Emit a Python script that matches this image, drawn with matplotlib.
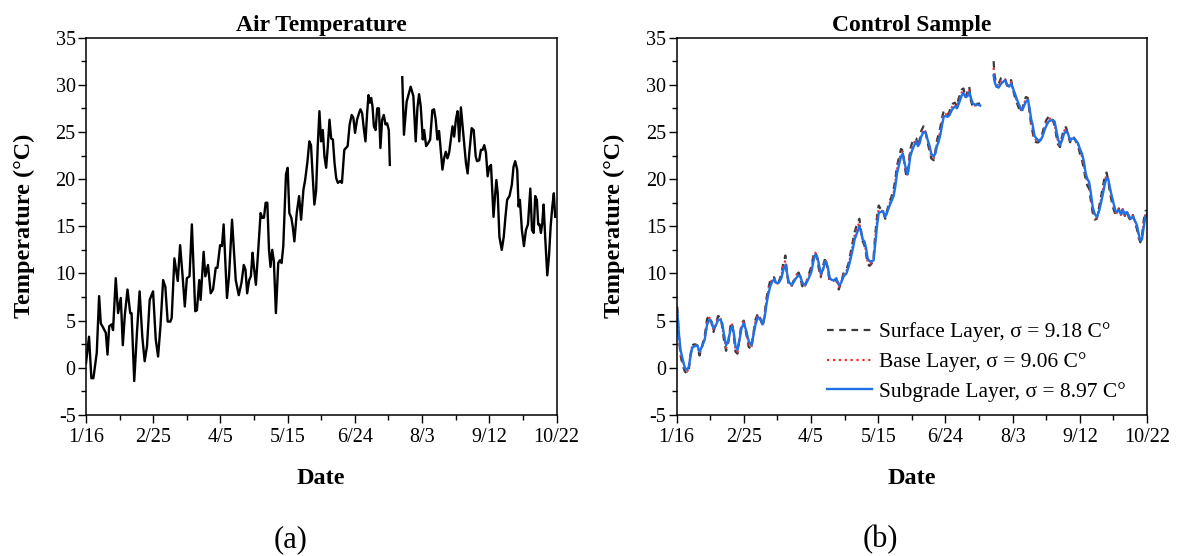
import numpy as np
import matplotlib
matplotlib.use("Agg")
import matplotlib.pyplot as plt
import matplotlib.gridspec as gridspec
from matplotlib.ticker import MultipleLocator

# ---------------------------------------------------------------------------
# data (day 0 = 1/16, leap year)
# ---------------------------------------------------------------------------
tick_days = [0, 40, 80, 120, 160, 200, 240, 280]
tick_labels = ["1/16", "2/25", "4/5", "5/15", "6/24", "8/3", "9/12", "10/22"]

# (a) air temperature, gap between 7/14 and 7/22
air_day = [
    0, 1.8, 3.2, 4.4, 6.4, 7.8, 8.8, 10.4, 11.8, 12.8, 13.8, 15.2, 16.1, 17.7,
    19.1, 20.7, 21.9, 23.1, 24.7, 26.3, 27.1, 28.7, 30.3, 31.9, 33.5, 34.9,
    36.3, 37.9, 39.9, 41.5, 42.9, 44.3, 45.9, 47.2, 48.6, 50.2, 51.0, 52.6,
    54.6, 56.0, 57.4, 58.8, 60.0, 61.6, 63.0, 65.0, 66.0, 67.4, 68.2, 70.0,
    71.0, 72.6, 74.2, 75.6, 77.2, 78.2, 79.8, 80.9, 81.9, 83.9, 85.1, 86.9,
    89.1, 90.9, 92.5, 93.9, 94.9, 95.9, 97.1, 98.1, 99.1, 99.9, 101.1, 102.5,
    103.9, 104.9, 105.9, 106.9, 107.9, 108.9, 109.8, 110.8, 111.8, 113.0,
    114.4, 115.4, 116.4, 117.4, 119.0, 120.0, 121.0, 122.2, 123.0, 124.0,
    125.4, 126.8, 128.0, 129.4, 130.4, 131.8, 132.9, 133.9, 134.9, 135.9,
    136.9, 137.9, 138.9, 139.9, 140.9, 141.9, 142.9, 143.9, 144.9, 145.9,
    146.9, 147.9, 148.9, 149.9, 151.3, 152.3, 153.7, 154.7, 155.7, 156.9,
    158.1, 159.1, 160.1, 161.3, 162.5, 163.3, 164.3, 165.3, 166.3, 167.3,
    168.1, 168.9, 169.7, 170.5, 171.3, 172.3, 173.3, 174.3, 175.2, 176.2,
    177.2, 178.2, 179.2, 180.2, 180.8, 184.5,
    188.2, 189.2, 190.8, 193.2, 194.8, 196.2, 197.2, 198.2, 199.2, 200.4,
    201.2, 202.4, 203.6, 204.8, 206.1, 207.1, 208.1, 209.1, 210.1, 211.1,
    212.1, 213.1, 214.1, 215.1, 216.1, 217.1, 218.1, 219.1, 220.1, 221.1,
    222.1, 223.1, 224.1, 225.1, 226.1, 227.1, 228.1, 229.5, 230.7, 231.9,
    232.7, 234.0, 235.0, 236.0, 237.0, 238.0, 239.0, 240.0, 241.0, 242.5,
    243.4, 244.2, 245.0, 246.0, 247.4, 248.6, 249.6, 250.6, 252.0, 253.4,
    254.4, 255.4, 256.6, 257.4, 258.2, 259.4, 260.6, 261.8, 263.0, 264.4,
    265.4, 266.4, 267.3, 268.3, 269.1, 269.9, 270.7, 271.5, 272.3, 273.3,
    274.5, 275.5, 276.5, 277.5, 278.4, 279.2,
]
air_temp = [
    0.5, 3.3, -1.1, -1.1, 1.6, 7.6, 4.7, 4.2, 3.7, 1.4, 4.4, 4.6, 4.0, 9.5,
    5.8, 7.4, 2.4, 5.6, 8.3, 5.8, 5.8, -1.4, 3.7, 8.1, 3.3, 0.7,
    2.3, 7.2, 8.1, 3.0, 1.2, 4.4, 9.3, 8.6, 4.9, 4.9, 5.3, 11.6,
    9.2, 13.0, 9.9, 6.5, 9.5, 9.7, 15.2, 6.0, 6.1, 9.3, 7.2, 12.3,
    9.7, 10.9, 7.9, 8.3, 10.6, 10.6, 13.0, 12.9, 15.2, 7.4, 9.7, 15.7,
    9.3, 7.7, 9.0, 10.9, 10.4, 7.9, 9.3, 9.7, 12.2, 10.7, 8.8, 12.5,
    16.4, 15.9, 15.9, 17.5, 17.5, 12.5, 10.7, 12.5, 11.3, 5.8,
    11.1, 11.4, 11.1, 12.9, 20.5, 21.2, 16.4, 15.9, 15.0, 13.4,
    16.4, 18.2, 15.7, 18.9, 19.9, 21.9, 24.0, 23.6, 20.3, 17.3,
    18.7, 23.5, 27.2, 24.0, 25.2, 22.4, 21.2, 23.5, 26.3, 24.3,
    24.2, 21.7, 20.1, 19.6, 19.8, 19.6, 23.1, 23.3, 23.5, 25.8,
    26.8, 26.5, 24.9, 26.3, 27.0, 27.4, 27.0, 25.4, 24.0, 27.0,
    28.9, 28.1, 28.6, 27.7, 25.6, 25.2, 27.5, 27.5, 23.3, 26.3,
    26.8, 25.8, 25.9, 25.2, 21.5, np.nan,
    30.8, 24.7, 28.2, 29.8, 28.8, 24.0, 27.5, 29.0, 27.7, 24.2,
    25.2, 23.5, 23.8, 24.2, 27.3, 27.4, 26.3, 24.2, 25.1, 23.1,
    21.0, 22.2, 22.9, 22.2, 22.8, 24.2, 25.6, 24.5, 26.3, 27.2,
    24.0, 27.6, 25.6, 23.5, 21.7, 20.6, 22.8, 25.4, 25.2, 22.4,
    21.9, 22.0, 23.1, 23.1, 23.6, 22.8, 20.3, 21.3, 21.5, 16.0,
    18.2, 19.9, 18.5, 13.9, 12.5, 13.9, 16.0, 17.8, 18.2, 19.4,
    21.3, 21.9, 21.0, 17.1, 17.8, 14.6, 12.9, 14.6, 15.2, 19.0,
    14.6, 14.3, 18.2, 17.8, 15.2, 15.2, 14.3, 15.3, 17.3, 13.7,
    9.8, 11.8, 15.0, 17.1, 18.5, 16.0,
]

# (b) control sample, three layers
layer_day = [
    0.4, 1.4, 2.4, 3.8, 5.0, 6.3, 7.3, 8.3, 9.3, 10.9, 12.3, 13.7, 15.3, 16.8,
    18.2, 19.6, 20.8, 22.0, 23.2, 24.8, 26.2, 27.2, 28.1, 29.5, 30.7, 32.1,
    33.1, 34.1, 35.1, 36.3, 37.5, 38.7, 40.0, 41.4, 43.0, 44.6, 45.6, 47.0,
    48.5, 49.9, 51.3, 52.5, 53.5, 54.5, 55.7, 56.9, 58.1, 59.3, 60.8, 62.4,
    63.6, 64.8, 65.8, 66.8, 68.4, 69.8, 71.1, 72.7, 73.7, 74.7, 76.1, 77.3,
    78.7, 80.3, 81.6, 82.6, 83.6, 84.6, 85.8, 87.2, 88.6, 90.0, 91.2, 92.5,
    93.9, 95.1, 96.5, 97.9, 99.5, 101.1, 102.4, 103.4, 104.8, 106.0, 107.4,
    108.8, 109.8, 110.8, 111.8, 112.8, 113.7, 114.9, 116.3, 117.3, 118.3,
    119.3, 120.3, 121.3, 122.9, 124.2, 125.2, 126.6, 127.8, 129.2, 130.2,
    131.2, 132.4, 133.6, 134.7, 135.7, 136.7, 137.5, 138.3, 139.1, 140.3,
    141.5, 142.7, 143.7, 144.7, 145.6, 147.0, 148.2, 149.4, 150.6, 151.6,
    153.0, 154.0, 155.0, 156.0, 157.0, 158.0, 159.0, 160.1, 161.3, 162.5,
    163.5, 164.5, 165.7, 166.9, 167.8, 168.8, 169.8, 170.8, 172.0, 173.2,
    174.2, 175.2, 176.4, 177.8, 179.1, 180.7, 184.5,
    188.7, 189.3, 190.3, 191.7, 193.1, 194.3, 195.5, 196.7, 197.9, 199.1,
    200.3, 201.7, 203.1, 204.3, 205.5, 206.7, 207.9, 209.1, 210.1, 211.0,
    212.0, 213.0, 214.2, 215.4, 216.6, 217.8, 219.0, 220.2, 221.4, 222.6,
    223.8, 225.0, 226.0, 227.0, 228.2, 229.4, 230.6, 231.8, 233.0, 234.2,
    235.3, 236.5, 237.7, 238.9, 240.1, 241.3, 242.5, 243.5, 244.5, 245.5,
    246.5, 247.7, 248.9, 250.1, 251.3, 252.5, 253.7, 254.9, 255.9, 256.9,
    257.9, 258.9, 260.1, 261.1, 262.1, 263.2, 264.4, 265.6, 266.8, 268.0,
    269.2, 270.4, 271.6, 272.8, 274.0, 275.0, 276.0, 277.0, 278.0, 279.0,
    280.0,
]
surface_temp = [
    6.5, 3.3, 1.3, 0.2, -0.4, -0.6, -0.2, 1.3, 2.4, 2.5, 2.4, 1.3, 2.4, 3.4,
    5.2, 5.5, 4.8, 3.8, 4.6, 5.5, 5.3, 4.4, 3.1, 1.8, 2.6, 4.4,
    4.8, 3.4, 1.7, 1.5, 3.2, 4.7, 5.0, 3.7, 2.2, 2.0, 3.5, 5.1,
    5.8, 5.2, 4.4, 5.8, 7.3, 8.3, 9.2, 9.6, 9.6, 8.8, 9.1, 9.9,
    11.2, 11.9, 10.0, 8.7, 8.6, 9.3, 9.8, 10.1, 9.6, 8.7, 8.4, 9.1,
    9.9, 10.8, 12.0, 12.3, 11.7, 10.6, 9.6, 10.8, 11.7, 10.4, 9.1, 9.1,
    9.3, 9.3, 8.3, 9.0, 10.1, 10.4, 11.1, 12.0, 13.3, 14.4, 15.2,
    15.8, 14.5, 13.4, 13.0, 12.1, 11.0, 10.8, 11.1, 11.8, 14.2,
    16.0, 17.2, 16.9, 16.6, 15.8, 16.6, 17.5, 18.1, 18.9, 20.0,
    21.4, 22.3, 23.2, 23.0, 21.4, 20.4, 20.3, 21.9, 23.2, 23.9,
    24.3, 24.3, 23.4, 24.2, 25.1, 25.6, 25.1, 23.9, 23.0, 22.2,
    22.0, 22.9, 24.1, 24.8, 25.5, 26.5, 27.2, 27.1, 26.8, 27.2,
    27.8, 28.0, 28.1, 27.7, 28.5, 29.0, 29.5, 29.6, 28.6, 29.3,
    29.8, 28.3, 27.6, 27.7, 28.0, 28.0, np.nan,
    32.5, 30.9, 30.2, 30.1, 30.7, 30.8, 30.7, 29.9, 30.1, 30.5,
    29.4, 28.5, 27.8, 27.3, 27.1, 28.1, 28.7, 28.6, 27.1, 25.8,
    24.9, 24.0, 23.9, 23.9, 24.3, 24.9, 25.8, 26.3, 26.6, 26.6,
    26.3, 25.7, 24.6, 23.7, 23.4, 24.5, 25.4, 25.5, 24.7, 23.9,
    24.5, 24.4, 24.0, 23.5, 22.7, 22.0, 21.0, 19.9, 19.3, 19.0,
    17.8, 16.4, 15.7, 15.8, 16.9, 18.0, 19.2, 20.3, 20.7, 19.9,
    18.6, 17.7, 16.8, 16.3, 16.2, 16.9, 16.1, 16.9, 16.1, 16.7,
    15.9, 15.6, 16.2, 15.4, 14.7, 13.8, 13.3, 14.0, 15.6, 16.6,
    16.7,
]
base_temp = [
    6.3, 3.5, 1.6, 0.5, -0.2, -0.4, 0.0, 1.3, 2.3, 2.4, 2.4, 1.5, 2.3, 3.2,
    4.9, 5.3, 4.9, 4.0, 4.5, 5.3, 5.2, 4.6, 3.4, 2.1, 2.7, 4.2,
    4.6, 3.6, 2.0, 1.7, 3.1, 4.5, 4.9, 3.9, 2.5, 2.2, 3.4, 4.9,
    5.6, 5.2, 4.5, 5.6, 7.0, 8.0, 8.9, 9.4, 9.5, 8.9, 9.0, 9.7,
    10.8, 11.4, 10.0, 8.9, 8.7, 9.2, 9.7, 10.0, 9.7, 8.9, 8.6, 9.0,
    9.7, 10.5, 11.7, 12.2, 11.8, 10.9, 9.8, 10.6, 11.5, 10.6, 9.3, 9.2,
    9.3, 9.4, 8.6, 9.0, 9.9, 10.2, 10.9, 11.7, 12.9, 14.0, 14.8,
    15.4, 14.5, 13.5, 13.2, 12.4, 11.3, 11.0, 11.2, 11.6, 13.7,
    15.5, 16.8, 16.7, 16.6, 15.9, 16.5, 17.3, 17.9, 18.5, 19.6,
    21.0, 21.9, 22.8, 22.9, 21.6, 20.7, 20.4, 21.6, 22.8, 23.5,
    23.9, 24.1, 23.5, 24.0, 24.8, 25.3, 25.0, 24.1, 23.3, 22.5,
    22.2, 22.8, 23.8, 24.4, 25.1, 26.1, 26.9, 26.9, 26.7, 27.0,
    27.5, 27.8, 27.9, 27.6, 28.2, 28.7, 29.2, 29.3, 28.7, 29.0,
    29.5, 28.5, 27.8, 27.8, 27.9, 27.9, np.nan,
    31.8, 30.6, 30.0, 29.9, 30.4, 30.6, 30.6, 30.0, 29.9, 30.3,
    29.5, 28.7, 28.0, 27.5, 27.2, 27.9, 28.5, 28.5, 27.3, 26.1,
    25.3, 24.3, 24.1, 24.0, 24.2, 24.7, 25.5, 26.0, 26.4, 26.4,
    26.3, 25.9, 24.9, 24.0, 23.5, 24.3, 25.1, 25.3, 24.8, 24.0,
    24.4, 24.4, 24.1, 23.7, 23.0, 22.4, 21.4, 20.3, 19.7, 19.4,
    18.2, 16.7, 16.0, 15.9, 16.7, 17.7, 18.8, 19.9, 20.4, 20.0,
    18.9, 18.0, 17.1, 16.5, 16.4, 16.8, 16.2, 16.8, 16.2, 16.6,
    16.0, 15.7, 16.1, 15.5, 14.9, 14.0, 13.4, 13.8, 15.3, 16.3,
    16.5,
]
subgrade_temp = [
    6.1, 3.7, 1.9, 0.8, 0.0, -0.2, 0.1, 1.2, 2.1, 2.3, 2.4, 1.7, 2.3, 3.0,
    4.6, 5.1, 4.9, 4.2, 4.4, 5.1, 5.1, 4.7, 3.7, 2.4, 2.8, 4.0,
    4.4, 3.7, 2.3, 1.9, 3.0, 4.2, 4.7, 4.0, 2.8, 2.4, 3.3, 4.6,
    5.4, 5.1, 4.6, 5.4, 6.7, 7.7, 8.6, 9.1, 9.4, 9.0, 9.0, 9.5,
    10.4, 10.9, 10.0, 9.1, 8.8, 9.1, 9.5, 9.8, 9.7, 9.1, 8.8, 9.0,
    9.5, 10.2, 11.4, 12.0, 11.8, 11.1, 10.0, 10.4, 11.3, 10.7, 9.5, 9.3,
    9.3, 9.5, 8.8, 9.0, 9.7, 10.0, 10.7, 11.4, 12.5, 13.6, 14.3,
    15.0, 14.4, 13.6, 13.4, 12.7, 11.6, 11.3, 11.3, 11.4, 13.2,
    15.0, 16.4, 16.5, 16.6, 16.0, 16.4, 17.1, 17.6, 18.2, 19.2,
    20.6, 21.5, 22.4, 22.7, 21.7, 21.0, 20.5, 21.3, 22.4, 23.1,
    23.6, 24.0, 23.5, 23.8, 24.5, 25.0, 24.9, 24.2, 23.5, 22.7,
    22.4, 22.7, 23.5, 24.0, 24.7, 25.7, 26.6, 26.7, 26.6, 26.8,
    27.2, 27.5, 27.7, 27.5, 27.9, 28.4, 28.9, 29.1, 28.7, 28.8,
    29.2, 28.6, 28.0, 27.9, 27.9, 27.8, np.nan,
    31.0, 30.3, 29.8, 29.7, 30.1, 30.3, 30.5, 30.0, 29.8, 30.1,
    29.6, 28.9, 28.2, 27.7, 27.3, 27.7, 28.2, 28.4, 27.5, 26.4,
    25.7, 24.6, 24.3, 24.1, 24.1, 24.5, 25.2, 25.7, 26.1, 26.2,
    26.3, 26.1, 25.2, 24.3, 23.6, 24.1, 24.8, 25.1, 24.8, 24.1,
    24.3, 24.3, 24.1, 23.8, 23.2, 22.7, 21.8, 20.6, 20.0, 19.7,
    18.6, 17.0, 16.3, 16.0, 16.5, 17.4, 18.4, 19.5, 20.1, 20.0,
    19.1, 18.3, 17.4, 16.7, 16.5, 16.7, 16.3, 16.7, 16.3, 16.5,
    16.1, 15.8, 16.0, 15.6, 15.1, 14.2, 13.5, 13.6, 14.9, 16.0,
    16.3,
]

# ---------------------------------------------------------------------------
plt.rcParams["font.family"] = "Liberation Serif"
plt.rcParams["font.size"] = 14.5
plt.rcParams["axes.linewidth"] = 1.1
plt.rcParams["axes.unicode_minus"] = False  # plain hyphen as in "-5"

fig = plt.figure(figsize=(11.83, 5.56), dpi=100)
gs = gridspec.GridSpec(nrows=1, ncols=2)
fig.subplots_adjust(left=0.0727, right=0.9696, bottom=0.2536, top=0.9324, wspace=0.255)

air_ax = fig.add_subplot(gs[0, 0])
ctrl_ax = fig.add_subplot(gs[0, 1])

air_ax.plot(air_day, air_temp, color="black", linewidth=1.7)

ctrl_ax.plot(layer_day, surface_temp, color="#3a3a3a", linewidth=1.6,
             dashes=(3, 2.5), label="Surface Layer, σ = 9.18 C°")
ctrl_ax.plot(layer_day, base_temp, color="#ec2f37", linewidth=1.6,
             linestyle=":", label="Base Layer, σ = 9.06 C°")
ctrl_ax.plot(layer_day, subgrade_temp, color="#1f72e6", linewidth=1.7,
             label="Subgrade Layer, σ = 8.97 C°")

for ax, title in zip([air_ax, ctrl_ax], ["Air Temperature", "Control Sample"]):
    ax.set_xlim(0, 280)
    ax.set_ylim(-5, 35)
    ax.set_xticks(tick_days)
    ax.set_xticklabels(tick_labels)
    ax.xaxis.set_minor_locator(MultipleLocator(20))
    ax.yaxis.set_major_locator(MultipleLocator(5))
    ax.yaxis.set_minor_locator(MultipleLocator(2.5))
    ax.tick_params(which="major", direction="out", length=5.5, width=1.0)
    ax.tick_params(which="minor", direction="out", length=3.5, width=1.0)
    ax.tick_params(axis="x", which="major", pad=4)
    ax.tick_params(axis="y", which="major", pad=2)
    ax.set_title(title, fontsize=17, fontweight="bold", pad=5)
    ax.set_xlabel("Date", fontsize=17.5, fontweight="bold", labelpad=15)
    ax.set_ylabel("Temperature (°C)", fontsize=17.5, fontweight="bold", labelpad=15)

ctrl_ax.legend(
    loc="center left",
    bbox_to_anchor=(0.297, 0.14),
    frameon=False,
    fontsize=15.5,
    borderpad=0,
    handlelength=2.1,
    handletextpad=0.3,
    labelspacing=0.45,
)

fig.text(291 / 1183, 1 - 540 / 556, "(a)", fontsize=22, ha="center", va="center")
fig.text(880 / 1183, 1 - 540 / 556, "(b)", fontsize=22, ha="center", va="center")

plt.savefig("out.png", dpi=100)
